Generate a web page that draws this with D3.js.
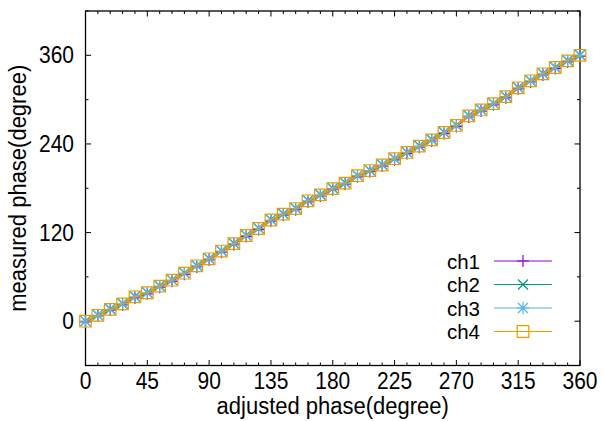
<!DOCTYPE html>
<html>
<head>
<meta charset="utf-8">
<script src="https://cdn.jsdelivr.net/npm/d3@7"></script>
<style>
  body { margin: 0; background: #fff; }
  svg { display: block; font-family: "Liberation Sans", Arial, sans-serif; }
</style>
</head>
<body>
<script>
// adjusted phase (deg) and measured phase per channel
let adjusted = [0, 9, 18, 27, 36, 45, 54, 63, 72, 81, 90, 99, 108, 117, 126, 135, 144, 153, 162, 171, 180,
  189, 198, 207, 216, 225, 234, 243, 252, 261, 270, 279, 288, 297, 306, 315, 324, 333, 342, 351, 360];
let ch1 = [-1, 7, 15, 22, 31.5, 37, 46, 54, 63.5, 73.5, 83, 93.5, 103.5, 114.5, 124, 135.5, 143.5, 151, 161.5, 169.5, 178,
  185.5, 195.5, 202.5, 210, 218.5, 227, 235.5, 244, 254, 263.5, 276.5, 284.5, 293, 302.5, 314.5, 324, 333.5, 342, 351, 359];
let ch2 = [0, 8.5, 16.5, 24, 33.5, 39, 48, 56, 65.5, 75.5, 85, 95.5, 105.5, 116.5, 126, 137.5, 145.5, 153, 163.5, 171.5, 180,
  187.5, 197.5, 204.5, 212, 220.5, 229, 237.5, 246, 256, 265.5, 278.5, 286.5, 295, 304.5, 316.5, 326, 335.5, 344, 353, 360.5];
let ch3 = [0, 8, 16, 23.5, 33, 38.5, 47.5, 55.5, 65, 75, 84.5, 95, 105, 116, 125.5, 137, 145, 152.5, 163, 171, 179.5,
  187, 197, 204, 211.5, 220, 228.5, 237, 245.5, 255.5, 265, 278, 286, 294.5, 304, 316, 325.5, 335, 343.5, 352.5, 360];
let ch4 = [0, 8, 16, 23.5, 33, 38.5, 47.5, 55.5, 65, 75, 84.5, 95, 105, 116, 125.5, 137, 145, 152.5, 163, 171, 179.5,
  187, 197, 204, 211.5, 220, 228.5, 237, 245.5, 255.5, 265, 278, 286, 294.5, 304, 316, 325.5, 335, 343.5, 352.5, 360];
let channels = ["ch1", "ch2", "ch3", "ch4"];
let xTicks = [0, 45, 90, 135, 180, 225, 270, 315, 360];
let yTicks = [0, 120, 240, 360];

let W = 603, H = 421;
let padding = { top: 11, left: 85.5, right: 23, bottom: 55.5 };
let colors = ["#9400d3", "#009e73", "#56b4e9", "#e69f00"];
let markers = ["plus", "cross", "star", "square"];
let stretch = 1.12; // reference glyphs are a bit taller than Liberation Sans

let svg = d3.select("body").append("svg").attr("width", W).attr("height", H);

let scaleX = d3.scaleLinear().domain([0, 360]).range([padding.left, W - padding.right]);
let scaleY = d3.scaleLinear().domain([-60, 420]).range([H - padding.bottom, padding.top]);

let markerPath = (type) =>
{
  let s = 6, c = 5, q = 5.8;
  let plus = "M" + (-s) + ",0H" + s + "M0," + (-s) + "V" + s;
  let cross = "M" + (-c) + "," + (-c) + "L" + c + "," + c + "M" + (-c) + "," + c + "L" + c + "," + (-c);
  if (type == "plus") return plus;
  if (type == "cross") return cross;
  if (type == "star") return plus + cross;
  return "M" + (-q) + "," + (-q) + "H" + q + "V" + q + "H" + (-q) + "Z";
}

let at = (x, y) => "translate(" + x + "," + y + ") scale(1," + stretch + ")";

let DrawFrame = () =>
{
  let x0 = scaleX.range()[0], x1 = scaleX.range()[1];
  let y0 = scaleY.range()[0], y1 = scaleY.range()[1];
  let ticks = svg.append("g").attr("stroke", "#000").attr("stroke-width", 1);
  let minorX = adjusted.filter(d => d % 45 != 0);
  let minorY = [-60, 60, 180, 300, 420];
  let addX = (vals, len) =>
  {
    vals.forEach(v =>
    {
      let px = scaleX(v);
      ticks.append("line").attr("x1", px).attr("x2", px).attr("y1", y0).attr("y2", y0 - len);
      ticks.append("line").attr("x1", px).attr("x2", px).attr("y1", y1).attr("y2", y1 + len);
    });
  }
  let addY = (vals, len) =>
  {
    vals.forEach(v =>
    {
      let py = scaleY(v);
      ticks.append("line").attr("x1", x0).attr("x2", x0 + len).attr("y1", py).attr("y2", py);
      ticks.append("line").attr("x1", x1).attr("x2", x1 - len).attr("y1", py).attr("y2", py);
    });
  }
  addX(xTicks, 5.5);
  addX(minorX, 3);
  addY(yTicks, 5.5);
  addY(minorY, 3);

  svg.append("rect")
    .attr("x", x0).attr("y", y1)
    .attr("width", x1 - x0).attr("height", y0 - y1)
    .attr("fill", "none").attr("stroke", "#000").attr("stroke-width", 1.3);

  svg.selectAll(".xlab").data(xTicks).enter().append("text")
    .attr("transform", d => at(scaleX(d), 389))
    .attr("text-anchor", "middle").attr("font-size", 21)
    .text(d => d);
  svg.selectAll(".ylab").data(yTicks).enter().append("text")
    .attr("transform", d => at(74, scaleY(d) + 8))
    .attr("text-anchor", "end").attr("font-size", 21)
    .text(d => d);

  svg.append("text")
    .text("adjusted phase(degree)")
    .attr("transform", at((x0 + x1) / 2, 414))
    .attr("text-anchor", "middle").attr("font-size", 22);
  svg.append("text")
    .text("measured phase(degree)")
    .attr("transform", "translate(26," + ((y0 + y1) / 2) + ") rotate(-90) scale(1," + stretch + ")")
    .attr("text-anchor", "middle").attr("font-size", 22);
}

let DrawSeries = () =>
{
  let series = [ch1, ch2, ch3, ch4];
  let line = d3.line().x((d, i) => scaleX(adjusted[i])).y(d => scaleY(d));
  series.forEach((vals, k) =>
  {
    let g = svg.append("g");
    g.append("path")
      .attr("d", line(vals))
      .attr("fill", "none")
      .attr("stroke", colors[k])
      .attr("stroke-width", k == 3 ? 1.4 : 1);
    g.selectAll("path.pt").data(vals).enter().append("path")
      .attr("class", "pt")
      .attr("transform", (d, i) => "translate(" + scaleX(adjusted[i]) + "," + scaleY(d) + ")")
      .attr("d", markerPath(markers[k]))
      .attr("fill", "none")
      .attr("stroke", colors[k])
      .attr("stroke-width", 1.2);
  });
}

let DrawLegend = () =>
{
  let rowGap = 23.5;
  let legend = svg.append("g").selectAll("g").data(channels).enter().append("g")
    .attr("transform", (d, i) => "translate(0," + (261 + i * rowGap) + ")");
  legend.append("text")
    .attr("x", 480).attr("y", 7.5)
    .attr("text-anchor", "end").attr("font-size", 20.5)
    .text(d => d);
  legend.append("line")
    .attr("x1", 494).attr("x2", 552)
    .attr("stroke", (d, i) => colors[i])
    .attr("stroke-width", 1.2);
  legend.append("path")
    .attr("transform", "translate(523,0)")
    .attr("d", (d, i) => markerPath(markers[i]))
    .attr("fill", "none")
    .attr("stroke", (d, i) => colors[i])
    .attr("stroke-width", 1.2);
}

DrawFrame();
DrawSeries();
DrawLegend();
</script>
</body>
</html>
